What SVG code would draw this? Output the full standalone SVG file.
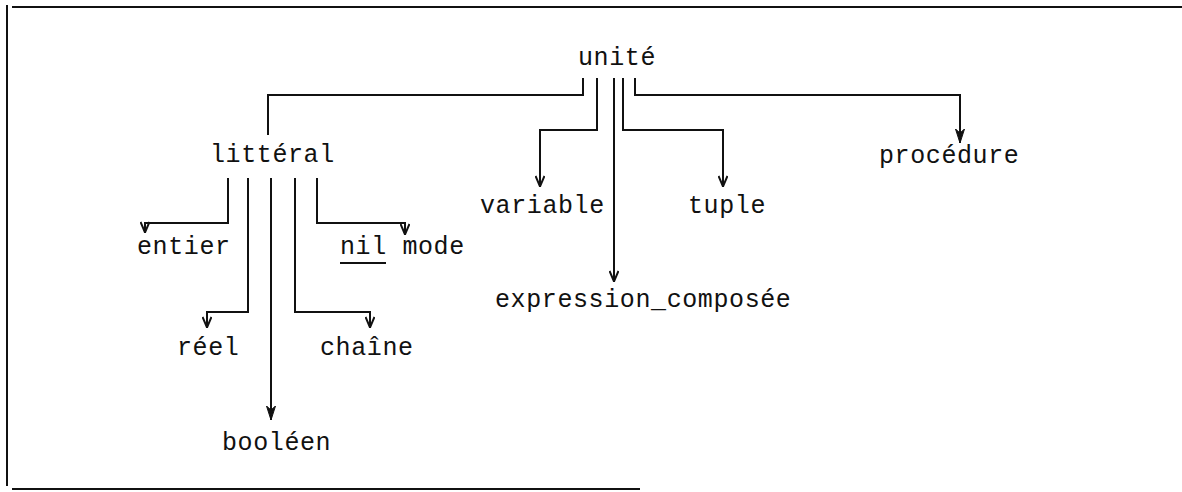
<svg xmlns="http://www.w3.org/2000/svg" width="1182" height="492" viewBox="0 0 1182 492">
<style>
text{font-family:"Liberation Mono","DejaVu Sans Mono",monospace;font-size:25px;letter-spacing:0.6px;fill:#111}
.c{fill:none;stroke:#111;stroke-width:2;stroke-linejoin:miter}
.f{fill:none;stroke:#111;stroke-width:2}
</style>
<defs>
<marker id="a" viewBox="0 0 12 10" refX="12" refY="5" markerWidth="12" markerHeight="10" markerUnits="userSpaceOnUse" orient="auto">
<path d="M1,0.5 L11.5,5 L1,9.5" fill="none" stroke="#111" stroke-width="2"/>
</marker>
<marker id="b" viewBox="0 0 14 10" refX="14" refY="5" markerWidth="14" markerHeight="10" markerUnits="userSpaceOnUse" orient="auto">
<path d="M0,0.5 L4,5 L0,9.5 L14,5 Z" fill="#111" stroke="#111" stroke-width="1"/>
</marker>
</defs>
<g id="frame">
<path class="f" d="M7,5 V486"/>
<path class="f" d="M12,7 H1182"/>
<path class="f" d="M12,489 H640"/>
</g>
<g id="connectors">
<path class="c" d="M583,78 V95 H268 V135"/>
<path class="c" d="M597,78 V130 H540 V187" marker-end="url(#a)"/>
<path class="c" d="M614,78 V282" stroke-width="3.5" marker-end="url(#a)"/>
<path class="c" d="M623,78 V130 H723 V187" marker-end="url(#a)"/>
<path class="c" d="M635,78 V95 H960 V143" marker-end="url(#b)"/>
<path class="c" d="M228,178 V223 H145 V233" marker-end="url(#a)"/>
<path class="c" d="M317,178 V223 H405 V235" marker-end="url(#a)"/>
<path class="c" d="M248,178 V312 H207 V328" marker-end="url(#a)"/>
<path class="c" d="M295,178 V312 H370 V328" marker-end="url(#a)"/>
<path class="c" d="M271,178 V420" marker-end="url(#b)"/>
</g>
<g id="unite"><text x="578" y="65">unité</text></g>
<g id="litteral"><text x="210" y="162">littéral</text></g>
<g id="variable"><text x="480" y="213">variable</text></g>
<g id="expression_composee"><text x="495" y="307">expression_composée</text></g>
<g id="tuple"><text x="688" y="213">tuple</text></g>
<g id="procedure"><text x="879" y="163">procédure</text></g>
<g id="entier"><text x="137" y="254">entier</text></g>
<g id="nil_mode"><text x="340" y="254">nil mode</text><path class="c" d="M340,263 H386"/></g>
<g id="reel"><text x="177" y="355">réel</text></g>
<g id="chaine"><text x="320" y="355">chaîne</text></g>
<g id="booleen"><text x="222" y="450">booléen</text></g>
</svg>
